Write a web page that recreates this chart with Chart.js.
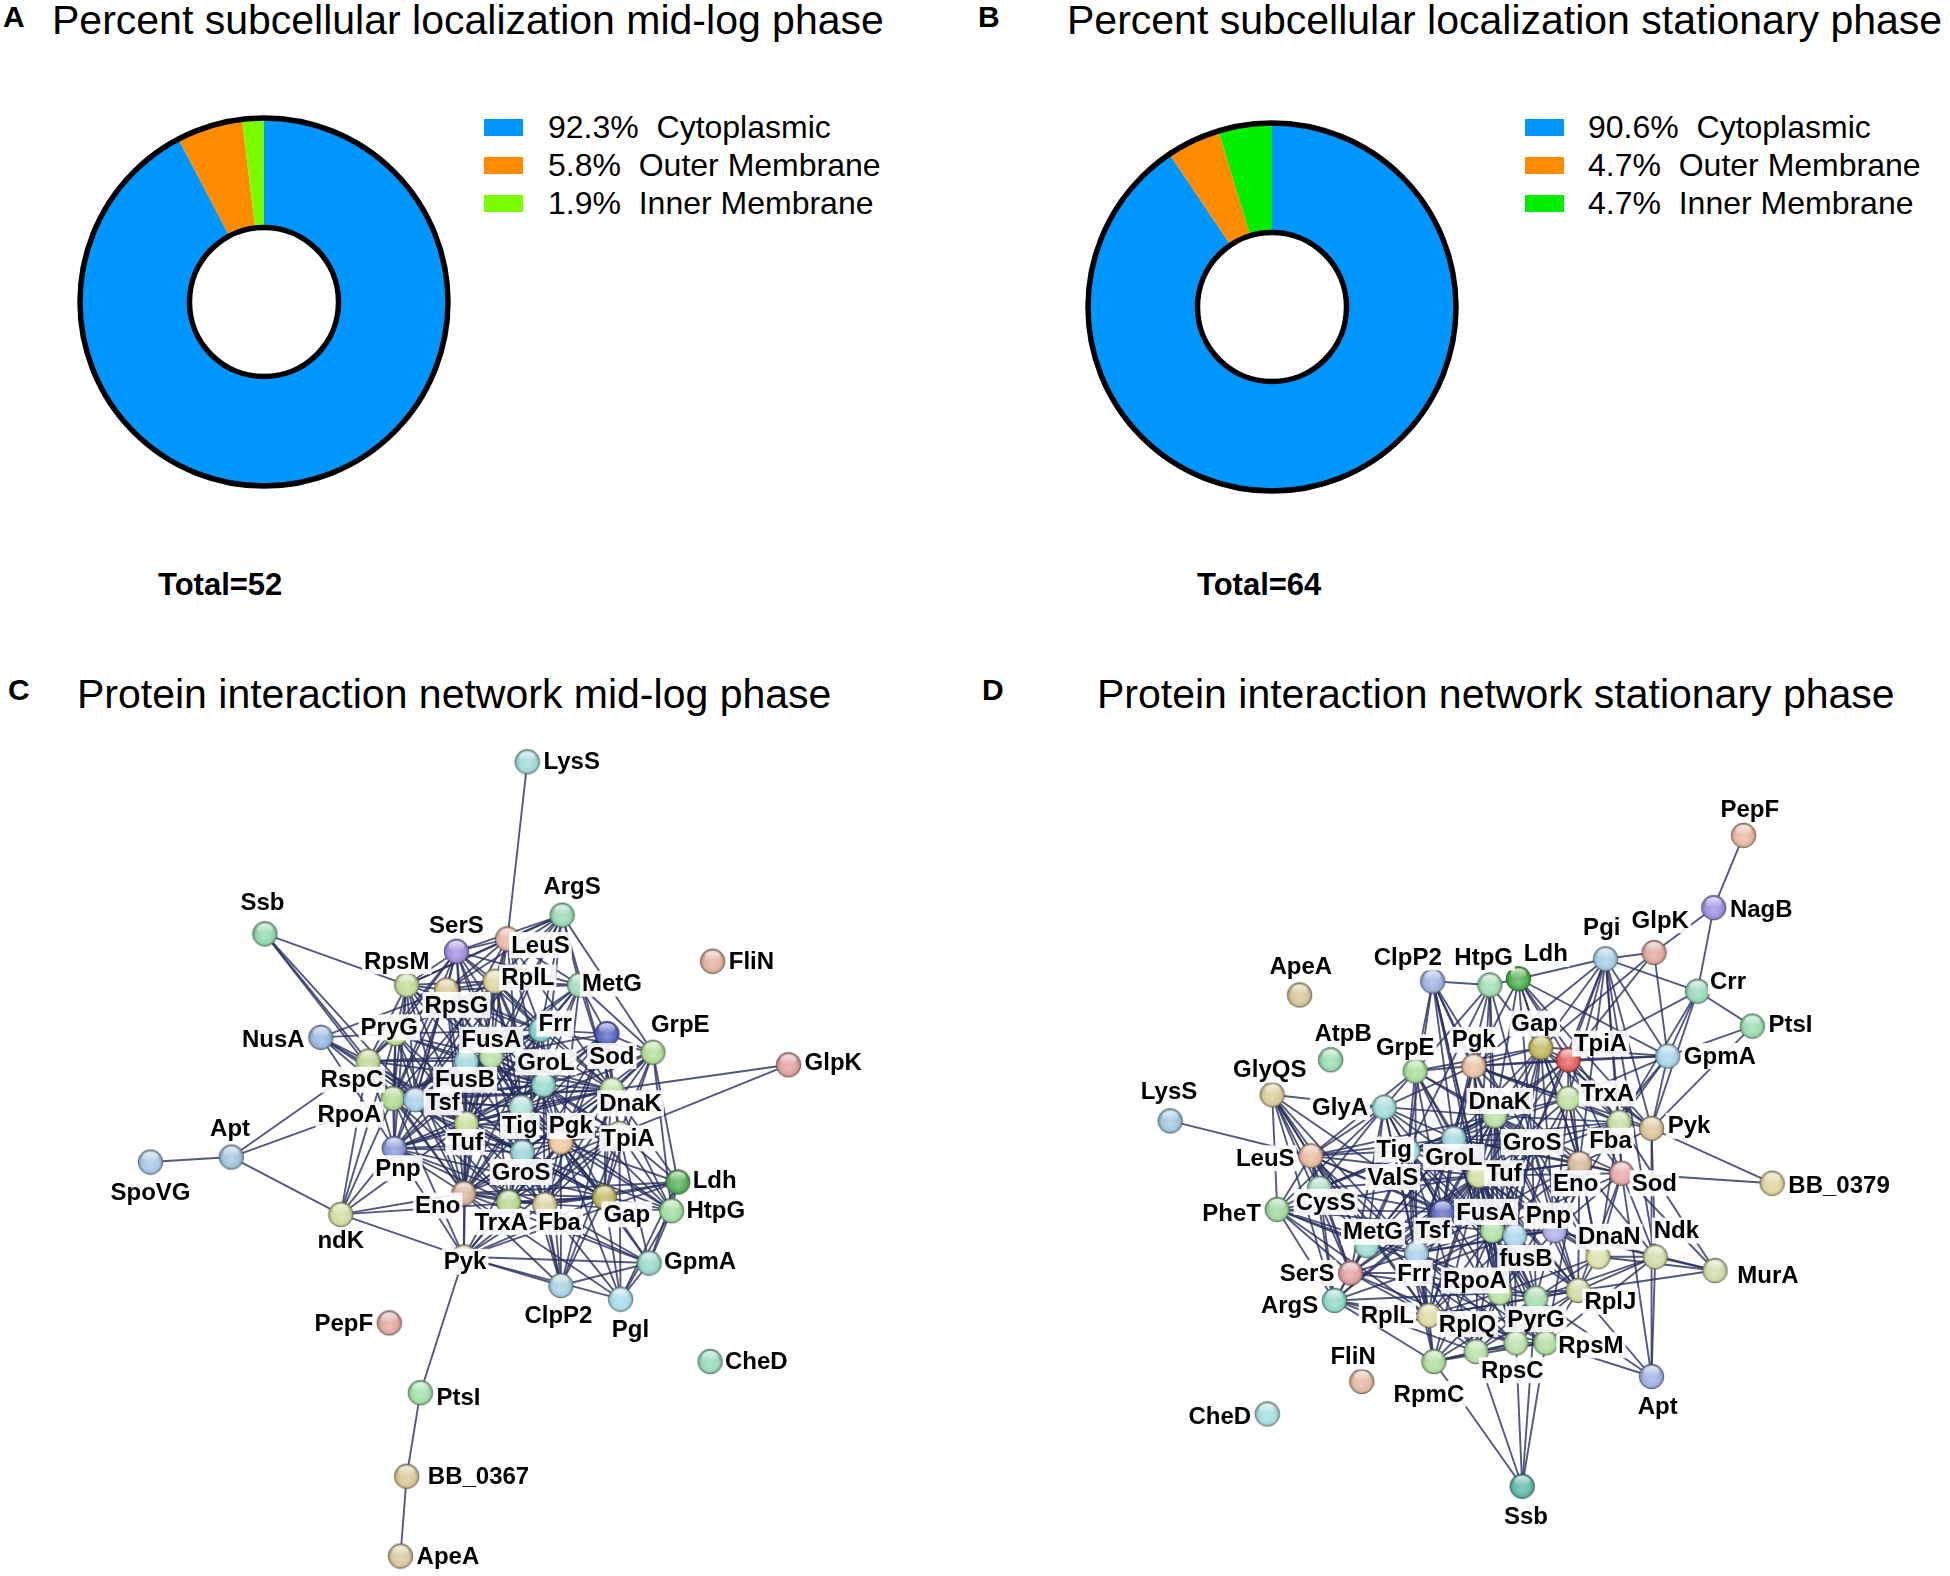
<!DOCTYPE html>
<html><head><meta charset="utf-8">
<script src="https://cdn.jsdelivr.net/npm/chart.js@4.4.1/dist/chart.umd.min.js"></script>
<style>
html,body{margin:0;padding:0;background:#fff;}
#page{position:relative;width:1950px;height:1576px;overflow:hidden;background:#fff;font-family:"Liberation Sans",Arial,sans-serif;color:#000;}
.t{position:absolute;white-space:pre;}
canvas{position:absolute;}
</style></head><body><div id="page"></div>
<script>
// ---------- DATA ----------
const categories = ['Cytoplasmic','Outer Membrane','Inner Membrane'];
const percentMidLog = [92.3, 5.8, 1.9];
const percentStationary = [90.6, 4.7, 4.7];
const totalMidLog = 52;
const totalStationary = 64;
const titles = ['Percent subcellular localization mid-log phase','Percent subcellular localization stationary phase',
  'Protein interaction network mid-log phase','Protein interaction network stationary phase'];

// network layout values (node name, layout x, layout y)
const nodesMidLog = [
 ['LysS',424,611],['ArgS',452,734],['Ssb',213,749],['SerS',367,763],['LeuS',408,753],['FliN',573,771],
 ['RpsM',327,790],['RplL',398,787],['MetG',466,790],['RpsG',359,794],['Frr',435,826],['GrpE',525,844],
 ['NusA',258,832],['Sod',488,829],['FusA',395,847],['GroL',437,870],['FusB',375,851],['PryG',318,829],
 ['RspC',296,851],['RpoA',316,881],['Tsf',334,882],['Tuf',375,901],['Tig',419,888],['Pgk',451,916],
 ['DnaK',492,874],['TpiA',498,909],['Pnp',317,921],['GroS',420,924],['Eno',373,957],['TrxA',409,964],
 ['Fba',438,966],['Gap',486,960],['Ldh',545,948],['HtpG',540,971],['ndK',274,974],['Apt',186,928],
 ['SpoVG',121,932],['Pyk',373,1008],['GpmA',522,1013],['ClpP2',451,1031],['Pgl',499,1042],['PepF',313,1061],
 ['CheD',571,1092],['PtsI',338,1117],['BB_0367',327,1184],['ApeA',322,1248],['GlpK',634,854]
];
const edgesMidLog = `
LysS-LeuS Ssb-RpsM Ssb-RspC Ssb-RpoA Ssb-Tsf NusA-RspC NusA-RpoA NusA-PryG NusA-Tsf NusA-RpsG NusA-Tuf NusA-Pnp
Apt-RspC Apt-RpoA Apt-ndK Apt-SpoVG ndK-Pyk ndK-Eno ndK-RpoA ndK-Pnp ndK-RspC ndK-Tuf ndK-PryG ndK-Gap
GlpK-DnaK GlpK-TpiA Pyk-PtsI PtsI-BB_0367 BB_0367-ApeA Pyk-GpmA Pyk-ClpP2 Pyk-Pgl Pyk-Eno Pyk-Gap Pyk-Fba Pyk-TpiA
Pyk-Pgk Pyk-TrxA Pyk-GroS Pyk-Pnp Pyk-Tuf Pyk-RpoA Pyk-Ldh ClpP2-GpmA ClpP2-Fba ClpP2-Gap ClpP2-DnaK ClpP2-GroL
ClpP2-GroS ClpP2-Tig ClpP2-TpiA ClpP2-Eno ClpP2-Pgk Pgl-GpmA Pgl-Gap Pgl-TpiA Pgl-Fba Pgl-Pgk Pgl-Ldh Pgl-HtpG Pgl-Eno
GpmA-Ldh GpmA-HtpG GpmA-Gap GpmA-TpiA GpmA-Fba GpmA-Pgk GpmA-Eno GpmA-TrxA Ldh-HtpG Ldh-Gap Ldh-TpiA Ldh-GrpE
Ldh-Pgk Ldh-Eno Ldh-Fba Ldh-DnaK HtpG-GrpE HtpG-DnaK HtpG-GroL HtpG-GroS HtpG-Gap HtpG-Tig GrpE-MetG GrpE-DnaK
GrpE-GroL GrpE-GroS GrpE-Sod GrpE-ArgS GrpE-Tig GrpE-Frr GrpE-TpiA GrpE-Pgk ArgS-MetG ArgS-LeuS ArgS-SerS ArgS-RpsM
ArgS-RplL ArgS-Frr ArgS-RpsG ArgS-FusA ArgS-Tuf ArgS-Tsf
SerS-LeuS SerS-RpsM SerS-RplL SerS-MetG SerS-RpsG SerS-FusA SerS-Tuf SerS-Tsf SerS-FusB SerS-Frr SerS-PryG SerS-RspC
LeuS-RplL LeuS-MetG LeuS-RpsM LeuS-RpsG LeuS-FusA LeuS-Tuf LeuS-Tsf LeuS-Frr LeuS-GroL MetG-RplL MetG-RpsG MetG-Frr
MetG-FusA MetG-Tuf MetG-Tsf MetG-GroL MetG-Sod MetG-DnaK RpsM-RpsG RpsM-RplL RpsM-PryG RpsM-RspC RpsM-RpoA RpsM-FusA
RpsM-FusB RpsM-Tuf RpsM-Tsf RpsM-Frr RpsM-Pnp RpsG-RplL RpsG-PryG RpsG-RspC RpsG-RpoA RpsG-FusA RpsG-FusB RpsG-Tuf
RpsG-Tsf RpsG-Frr RpsG-GroL RpsG-Tig RpsG-Pnp RplL-Frr RplL-FusA RplL-FusB RplL-Tuf RplL-Tsf RplL-GroL RplL-RpoA
RplL-Tig RplL-DnaK RplL-PryG PryG-RspC PryG-RpoA PryG-FusA PryG-FusB PryG-Tsf PryG-Tuf PryG-Pnp PryG-Eno RspC-RpoA
RspC-Tsf RspC-Tuf RspC-FusA RspC-FusB RspC-Pnp RspC-Eno RpoA-Tsf RpoA-Tuf RpoA-Pnp RpoA-FusA RpoA-FusB RpoA-Eno
RpoA-GroS Tsf-Tuf Tsf-FusA Tsf-FusB Tsf-Frr Tsf-Pnp Tsf-Tig Tsf-GroL Tsf-Eno Tuf-FusA Tuf-FusB Tuf-Frr Tuf-Tig
Tuf-GroL Tuf-GroS Tuf-Pnp Tuf-Eno Tuf-DnaK Tuf-Pgk Tuf-TrxA Tuf-Gap FusA-FusB FusA-Frr FusA-GroL FusA-Tig FusA-Pnp
FusA-DnaK FusA-Eno FusB-Frr FusB-Tig FusB-GroL FusB-Pnp Frr-GroL Frr-Sod Frr-DnaK Frr-Tig Pnp-Eno Pnp-GroS Pnp-TrxA
GroL-GroS GroL-DnaK GroL-Tig GroL-Sod GroL-Pgk GroL-TpiA GroL-Gap GroL-Eno GroL-Fba GroL-TrxA DnaK-GroS DnaK-Tig
DnaK-Sod DnaK-TpiA DnaK-Pgk DnaK-Gap DnaK-Eno DnaK-Fba DnaK-TrxA Sod-TpiA Sod-Pgk Sod-TrxA Sod-Gap Tig-GroS Tig-Pgk
Tig-Eno Pgk-TpiA Pgk-Gap Pgk-Eno Pgk-Fba Pgk-TrxA Pgk-GroS TpiA-Gap TpiA-Eno TpiA-Fba TpiA-TrxA GroS-Eno GroS-TrxA
GroS-Fba GroS-Gap Eno-TrxA Eno-Fba Eno-Gap TrxA-Fba TrxA-Gap Fba-Gap
GroL-RpsM GroL-PryG GroL-RspC GroL-RpoA GroL-Pnp GroS-Tsf GroS-FusA GroS-FusB GroS-RspC GroS-PryG DnaK-Tsf DnaK-FusB
DnaK-RpoA DnaK-Pnp DnaK-RpsG Tig-RpoA Tig-Pnp Tig-TrxA Tig-Fba Tig-Gap Tig-TpiA Pgk-FusA Pgk-Tsf Pgk-Pnp Eno-FusB
Eno-RpsM Eno-RpsG Gap-FusA Gap-RpoA Gap-Pnp TrxA-FusA TrxA-RpoA TrxA-Tsf Fba-Tuf Fba-Pnp Fba-Tsf TpiA-Tuf TpiA-FusA
Sod-Tuf Sod-FusA Sod-Tig Sod-Eno Sod-Fba MetG-Tig MetG-Pgk LeuS-Tig LeuS-DnaK SerS-GroL SerS-Tig SerS-RpoA ArgS-GroL
ArgS-DnaK RplL-Pgk RplL-Eno RplL-GroS Frr-Pgk Frr-GroS Frr-Eno Frr-Pnp Frr-RpoA Frr-PryG HtpG-TpiA HtpG-Pgk HtpG-Fba
GrpE-Gap GrpE-Fba`;

const nodesStationary = [
 ['PepF',1402,670],['NagB',1378,728],['GlpK',1330,764],['Pgi',1291,769],['Ldh',1221,785],['HtpG',1198,790],
 ['ClpP2',1152,787],['ApeA',1045,798],['Crr',1365,795],['PtsI',1409,823],['AtpB',1070,850],['GrpE',1138,859],
 ['Pgk',1185,855],['Gap',1239,840],['TpiA',1261,850],['GpmA',1341,847],['GlyQS',1023,878],['LysS',941,899],
 ['GlyA',1113,888],['DnaK',1202,895],['TrxA',1261,881],['Fba',1302,900],['Pyk',1328,905],['BB_0379',1425,949],
 ['LeuS',1054,927],['Tig',1132,923],['GroL',1169,913],['GroS',1232,916],['Tuf',1189,943],['ValS',1160,972],
 ['Eno',1270,933],['Sod',1304,941],['PheT',1027,970],['CysS',1061,953],['MetG',1099,999],['Tsf',1139,1005],
 ['FusA',1200,987],['fusB',1218,991],['Pnp',1250,987],['DnaN',1285,1008],['Ndk',1331,1008],['MurA',1379,1019],
 ['SerS',1086,1021],['Frr',1137,1021],['RpoA',1206,1037],['ArgS',1073,1043],['RplL',1149,1055],['RplQ',1187,1084],
 ['PyrG',1235,1041],['RplJ',1269,1035],['RpsM',1243,1077],['RpsC',1219,1077],['RpmC',1153,1092],['FliN',1095,1108],
 ['Apt',1328,1104],['CheD',1019,1134],['Ssb',1224,1192]
];
const edgesStationary = `
PepF-NagB NagB-Crr NagB-GlpK GlpK-Pgi Pgi-Ldh Pgi-Crr Pgi-GpmA Pgi-TpiA Pgi-Gap Pgi-Pyk Pgi-Eno Pgi-Fba Pgi-Pgk
Pgi-TrxA Pgi-Sod Pgi-Ndk Pgi-GroS GlpK-TpiA GlpK-Gap GlpK-GpmA Crr-PtsI Crr-GpmA Crr-Pyk Crr-TpiA Crr-Fba PtsI-Pyk
PtsI-GpmA GpmA-Pyk GpmA-TpiA GpmA-Gap GpmA-Pgk GpmA-Eno GpmA-Fba GpmA-Ldh GpmA-TrxA Pyk-BB_0379 Sod-BB_0379 Pyk-Ndk
Pyk-Eno Pyk-Fba Pyk-Gap Pyk-TpiA Pyk-Pgk Pyk-Ldh Pyk-Apt Ndk-MurA Ndk-Apt Ndk-RplJ Ndk-DnaN Ndk-Sod Ndk-PyrG Ndk-Pnp
Ndk-RpsM Ndk-Eno MurA-DnaN MurA-RplJ MurA-Fba MurA-Pnp MurA-Sod Apt-RpsM Apt-RplJ Apt-PyrG Apt-Sod Ssb-RpsC Ssb-RpmC
Ssb-RplQ Ssb-PyrG Ssb-RpsM LysS-LeuS GlyQS-GlyA GlyQS-LeuS GlyQS-PheT GlyQS-SerS GlyQS-ArgS GlyQS-CysS GlyQS-MetG
GlyQS-ValS GlyQS-Tsf GlyQS-RplL ClpP2-DnaK ClpP2-GrpE ClpP2-GroL ClpP2-GroS ClpP2-Tig ClpP2-HtpG ClpP2-Tuf ClpP2-FusA
ClpP2-Pgk HtpG-DnaK HtpG-GrpE HtpG-GroL HtpG-GroS HtpG-Ldh HtpG-Tuf HtpG-Tig HtpG-Gap Ldh-Gap Ldh-Pgk Ldh-TpiA
Ldh-Eno Ldh-Fba Ldh-DnaK Ldh-GroS
DnaK-GrpE DnaK-GroL DnaK-GroS DnaK-Tig DnaK-Tuf DnaK-FusA DnaK-Tsf DnaK-Pgk DnaK-Gap DnaK-TpiA DnaK-Eno DnaK-TrxA
DnaK-Fba DnaK-Sod DnaK-RpoA DnaK-Pnp DnaK-fusB DnaK-RplL GroL-GroS GroL-GrpE GroL-Tig GroL-Tuf GroL-FusA GroL-Tsf
GroL-Pgk GroL-Gap GroL-Eno GroL-Fba GroL-TpiA GroL-RpoA GroL-Pnp GroL-RplL GroL-Sod GroL-TrxA GroS-GrpE GroS-Tig
GroS-Tuf GroS-Eno GroS-Gap GroS-Fba GrpE-Tig GrpE-Tuf GrpE-GlyA GrpE-Pgk GrpE-LeuS Tig-Tuf Tig-FusA Tig-Tsf Tig-RplL
Tig-RpoA Tig-RpsC Tig-Frr Tig-MetG
Pgk-Gap Pgk-TpiA Pgk-Eno Pgk-Fba Pgk-TrxA Gap-TpiA Gap-Eno Gap-Fba Gap-TrxA TpiA-Eno TpiA-Fba TpiA-TrxA TpiA-Sod
Eno-Fba Eno-Sod Eno-TrxA Eno-Pnp Eno-DnaN Eno-Tuf Fba-Sod Fba-TrxA TrxA-Sod Sod-DnaN Sod-Pnp Sod-RplJ Gap-Tuf Pgk-Tuf
Eno-RpoA Eno-FusA Gap-FusA
LeuS-ValS LeuS-CysS LeuS-MetG LeuS-SerS LeuS-ArgS LeuS-PheT LeuS-GlyA LeuS-Tig LeuS-GroL LeuS-Tuf LeuS-Tsf LeuS-FusA
LeuS-Frr LeuS-RplL ValS-CysS ValS-MetG ValS-SerS ValS-ArgS ValS-PheT ValS-Tuf ValS-Tsf ValS-FusA CysS-MetG CysS-SerS
CysS-ArgS CysS-PheT CysS-GlyA MetG-SerS MetG-ArgS MetG-PheT MetG-Tsf MetG-Tuf SerS-ArgS SerS-PheT SerS-Tsf SerS-Tuf
SerS-RplL SerS-RpoA SerS-Frr SerS-GlyA ArgS-PheT ArgS-RplL ArgS-Tuf ArgS-RpmC ArgS-RplQ ArgS-RpsC PheT-GlyA PheT-Tuf
PheT-Tsf PheT-RplL GlyA-Tuf GlyA-Tig GlyA-GroL GlyA-DnaK GlyA-Pgk Tsf-Tuf Tsf-FusA Tsf-fusB Tsf-Frr Tsf-RpoA Tsf-RplL
Tsf-RplQ Tsf-RpsC Tsf-RpmC Tsf-PyrG Tsf-RpsM Tsf-Pnp Tuf-FusA Tuf-fusB Tuf-Frr Tuf-RpoA Tuf-RplL Tuf-RplQ Tuf-RpsC
Tuf-RpmC Tuf-PyrG Tuf-RpsM Tuf-RplJ Tuf-Pnp Tuf-DnaN FusA-fusB FusA-Frr FusA-RpoA FusA-RplL FusA-RplQ FusA-RpsC
FusA-RpmC FusA-PyrG FusA-RpsM FusA-RplJ FusA-Pnp fusB-Frr fusB-RpoA fusB-RplL fusB-RplQ fusB-RpsC fusB-RplJ fusB-Pnp
Frr-RpoA Frr-RplL Frr-RplQ Frr-RpsC Frr-RpmC Frr-RpsM RpoA-RplL RpoA-RplQ RpoA-RpsC RpoA-RpmC RpoA-PyrG RpoA-RpsM
RpoA-RplJ RpoA-Pnp RpoA-DnaN RplL-RplQ RplL-RpsC RplL-RpmC RplL-PyrG RplL-RpsM RplL-RplJ RplQ-RpsC RplQ-RpmC RplQ-PyrG
RplQ-RpsM RplQ-RplJ RpsC-RpmC RpsC-PyrG RpsC-RpsM RpsC-RplJ RpmC-PyrG RpmC-RpsM PyrG-RpsM PyrG-RplJ PyrG-Pnp RpsM-RplJ
RplJ-Pnp RplJ-DnaN Pnp-DnaN Pnp-fusB DnaN-PyrG ValS-GroL MetG-GroL CysS-Tuf ArgS-Frr PheT-RpoA ArgS-RpoA SerS-RpsC
PheT-FusA
GroS-FusA GroS-Tsf GroS-RpoA GroS-Pnp GroS-fusB GroS-RplJ GroS-DnaN GroS-PyrG GroL-fusB GroL-RplJ GroL-PyrG GroL-RpsC
GroL-DnaN GroL-CysS GroL-MetG Gap-RpoA Gap-Pnp Pgk-FusA Pgk-Tsf Eno-Tsf Eno-RplJ Eno-RpsM TrxA-FusA TrxA-Tuf Fba-Tuf
Fba-Pnp Fba-DnaN Sod-Tuf Sod-FusA TpiA-Tuf TpiA-FusA DnaK-RplJ DnaK-DnaN DnaK-PyrG DnaK-RpsC DnaK-MetG DnaK-CysS
DnaK-LeuS DnaK-ValS Tig-ValS Tig-CysS Tig-SerS Tig-PyrG Tig-RplQ GrpE-ValS GrpE-Tsf GrpE-FusA GrpE-Gap Pgk-RpoA
Pgk-ValS TrxA-RpoA TrxA-Pnp TrxA-DnaN GlyA-ValS GlyA-MetG GlyA-Tsf GlyA-FusA GlyA-RplL Tuf-Eno ClpP2-RpoA HtpG-FusA`;

// ---------- STYLES / LAYOUT ----------
const sliceColorsMidLog = ['#0096ff','#ff8c00','#7cfc00'];
const sliceColorsStationary = ['#0096ff','#ff8c00','#00ee00'];

const nodeColorMidLog = {LysS:'#9fd9d6',ArgS:'#9ad8b2',Ssb:'#92d6aa',SerS:'#a48fe0',LeuS:'#e6b8a6',FliN:'#e2b09c',
 RpsM:'#c2db98',RplL:'#ddd49e',MetG:'#a2dcb8',RpsG:'#d8c896',Frr:'#84d2ca',GrpE:'#b2dc98',NusA:'#9ab6de',Sod:'#5b68c2',
 FusA:'#b8e0a6',GroL:'#94d8cc',FusB:'#a2d8e2',PryG:'#c0dc98',RspC:'#bed896',RpoA:'#b0d890',Tsf:'#a8cfe8',Tuf:'#c8dc98',
 Tig:'#b0e0d8',Pgk:'#f0c8a0',DnaK:'#c0e0a8',TpiA:'#c8dca0',Pnp:'#8898d8',GroS:'#98d4d8',Eno:'#d8b098',TrxA:'#b8d890',
 Fba:'#dcd0a0',Gap:'#c0b860',Ldh:'#58b058',HtpG:'#a0dca0',ndK:'#d0dca0',Apt:'#a0c4dc',SpoVG:'#a8c8e4',Pyk:'#d8c8a0',
 GpmA:'#98d8c8',ClpP2:'#a8d0e0',Pgl:'#a8dce8',PepF:'#e0a8a0',CheD:'#98d8b8',PtsI:'#a0e0a8',BB_0367:'#d8c898',
 ApeA:'#d8c8a0',GlpK:'#e0a0a0'};
const nodeColorStationary = {PepF:'#e8b8a0',NagB:'#a090e0',GlpK:'#e0a8a0',Pgi:'#a8cce4',Ldh:'#50b050',HtpG:'#a0dcb0',
 ClpP2:'#a0b0e0',ApeA:'#d8c498',Crr:'#98d8b8',PtsI:'#98dcb0',AtpB:'#98dcb0',GrpE:'#a8dc98',Pgk:'#e8c0a0',Gap:'#c0b860',
 TpiA:'#e86060',GpmA:'#a8d4e8',GlyQS:'#d8cc98',LysS:'#a0c8dc',GlyA:'#a0dcd8',DnaK:'#b8e0a8',TrxA:'#c0e0a0',Fba:'#c8dca0',
 Pyk:'#dcc498',BB_0379:'#e0d4a0',LeuS:'#e8b8a0',Tig:'#a8e0e0',GroL:'#a0d8e0',GroS:'#a0d8d0',Tuf:'#d0e0a0',ValS:'#6070c0',
 Eno:'#d8b898',Sod:'#e8a8a8',PheT:'#a0d8a0',CysS:'#a8dcc0',MetG:'#a0dcd0',Tsf:'#a8d0e8',FusA:'#b0e0a8',fusB:'#a8d4e8',
 Pnp:'#b0b0e8',DnaN:'#dce0a8',Ndk:'#d0dca8',MurA:'#ccdca8',SerS:'#e0a0a0',Frr:'#a0d8d0',RpoA:'#b8e0a0',ArgS:'#90d8c8',
 RplL:'#e0d8a0',RplQ:'#b8e0a8',PyrG:'#a8dcb0',RplJ:'#d0d8a0',RpsM:'#b0dca0',RpsC:'#b8e0a8',RpmC:'#b0dca0',FliN:'#e0b8a0',
 Apt:'#a0b0e0',CheD:'#a8dcdc',Ssb:'#60b8a8'};

// label placement: [anchor, dx, dy] relative to node (layout units)
const labelMidLog = {LysS:['r',13,0],ArgS:['c',8,-23],Ssb:['c',-2,-25],SerS:['c',0,-21],LeuS:['r',3,5],FliN:['r',13,0],
 RpsM:['c',-8,-19],RplL:['r',5,-3],MetG:['r',2,-1],RpsG:['c',8,12],Frr:['r',-2,-5],GrpE:['c',22,-22],NusA:['l',-13,2],
 Sod:['c',4,18],FusA:['c',0,-13],GroL:['c',2,-18],FusB:['c',-1,15],PryG:['c',-5,-5],RspC:['c',-13,15],RpoA:['c',-35,13],
 Tsf:['c',22,2],Tuf:['c',-1,15],Tig:['c',-1,15],Pgk:['c',8,-13],DnaK:['c',15,11],TpiA:['c',7,4],Pnp:['c',3,16],
 GroS:['c',-1,16],Eno:['c',-21,10],TrxA:['c',-6,16],Fba:['c',12,14],Gap:['c',18,14],Ldh:['r',12,-1],HtpG:['r',12,0],
 ndK:['c',0,21],Apt:['c',-1,-23],SpoVG:['c',0,24],Pyk:['c',1,4],GpmA:['r',12,-1],ClpP2:['c',-2,24],Pgl:['c',8,24],
 PepF:['l',-13,0],CheD:['r',12,0],PtsI:['r',13,4],BB_0367:['r',17,0],ApeA:['r',13,0],GlpK:['r',13,-2]};
const labelStationary = {PepF:['c',5,-21],NagB:['r',13,1],GlpK:['c',5,-26],Pgi:['c',-3,-25],Ldh:['c',22,-20],
 HtpG:['c',-5,-22],ClpP2:['c',-20,-19],ApeA:['c',1,-23],Crr:['r',10,-8],PtsI:['r',13,-1],AtpB:['c',10,-21],
 GrpE:['c',-8,-19],Pgk:['c',0,-21],Gap:['c',-5,-19],TpiA:['c',26,-13],GpmA:['r',13,0],GlyQS:['c',-2,-20],
 LysS:['c',-1,-24],GlyA:['l',-13,0],DnaK:['c',4,-12],TrxA:['r',10,-4],Fba:['c',-7,15],Pyk:['r',13,-2],
 BB_0379:['r',13,2],LeuS:['l',-13,2],Tig:['c',-11,-1],GroL:['c',0,15],GroS:['c',0,0],Tuf:['r',6,-2],
 ValS:['c',-40,-28],Eno:['c',-3,16],Sod:['r',8,8],PheT:['l',-13,3],CysS:['c',5,11],MetG:['c',5,-11],
 Tsf:['c',13,-18],FusA:['c',-5,-15],fusB:['c',9,18],Pnp:['c',-5,-12],DnaN:['c',9,-16],Ndk:['c',17,-21],
 MurA:['r',18,4],SerS:['l',-13,0],Frr:['c',0,0],RpoA:['c',-20,-10],ArgS:['l',-13,4],RplL:['l',-12,0],
 RplQ:['c',-7,-22],PyrG:['c',0,17],RplJ:['r',5,9],RpsM:['r',10,2],RpsC:['c',-3,22],RpmC:['c',-4,26],
 FliN:['c',-7,-20],Apt:['c',5,24],CheD:['l',-13,2],Ssb:['c',3,24]};

const FONT = '"Liberation Sans", Arial, Helvetica, sans-serif';
const page = document.getElementById('page');

function addText(txt, left, cy, size, bold){
  const d = document.createElement('div');
  d.className = 't';
  d.textContent = txt;
  d.style.left = left + 'px';
  d.style.top = (cy - 0.59*size) + 'px';
  d.style.fontSize = size + 'px';
  d.style.lineHeight = (1.2*size) + 'px';
  d.style.fontWeight = bold ? 'bold' : 'normal';
  page.appendChild(d);
}
function addCanvas(left, top, w, h){
  const c = document.createElement('canvas');
  c.width = w; c.height = h;
  c.style.left = left + 'px'; c.style.top = top + 'px';
  c.style.width = w + 'px'; c.style.height = h + 'px';
  page.appendChild(c);
  return c;
}

// panel letters and titles
addText('A', 3, 17, 30, true);
addText(titles[0], 52, 20, 41, false);
addText('B', 978, 17, 30, true);
addText(titles[1], 1067, 20, 41, false);
addText('C', 8, 690, 30, true);
addText(titles[2], 77, 694, 41, false);
addText('D', 982, 690, 30, true);
addText(titles[3], 1097, 694, 41, false);

// ---------- DOUGHNUTS ----------
const ringPlugin = {
  id: 'ring',
  afterDatasetsDraw(chart){
    const arc = chart.getDatasetMeta(0).data[0];
    if(!arc) return;
    const p = arc.getProps(['x','y','innerRadius','outerRadius'], true);
    const ctx = chart.ctx;
    ctx.save();
    ctx.strokeStyle = '#000';
    ctx.lineWidth = 5.5;
    ctx.beginPath(); ctx.arc(p.x, p.y, p.outerRadius, 0, Math.PI*2); ctx.stroke();
    ctx.beginPath(); ctx.arc(p.x, p.y, p.innerRadius, 0, Math.PI*2); ctx.stroke();
    ctx.restore();
  }
};
function doughnut(cx, cy, values, colors){
  const size = 380;
  const c = addCanvas(cx - size/2, cy - size/2, size, size);
  new Chart(c, {
    type: 'doughnut',
    data: { labels: categories, datasets: [{ data: values, backgroundColor: colors, borderWidth: 0 }] },
    options: {
      responsive: false, animation: false, cutout: '40.5%',
      layout: { padding: 6, autoPadding: false },
      plugins: { legend: { display: false }, tooltip: { enabled: false } }
    },
    plugins: [ringPlugin]
  });
}
doughnut(264, 302, percentMidLog, sliceColorsMidLog);
doughnut(1272, 307, percentStationary, sliceColorsStationary);

function legend(boxX, textX, values, colors){
  const rows = [127, 165, 203];
  categories.forEach((cat, i) => {
    const b = document.createElement('div');
    b.style.position = 'absolute';
    b.style.left = boxX + 'px'; b.style.top = (rows[i] - 8.5) + 'px';
    b.style.width = '39px'; b.style.height = '17px';
    b.style.background = colors[i];
    page.appendChild(b);
    addText(values[i].toFixed(1) + '%  ' + cat, textX, rows[i], 32, false);
  });
}
legend(484, 548, percentMidLog, sliceColorsMidLog);
legend(1525, 1588, percentStationary, sliceColorsStationary);

addText('Total=' + totalMidLog, 158, 584, 31, true);
addText('Total=' + totalStationary, 1197, 584, 31, true);

// ---------- NETWORKS ----------
function hexToRgb(h){ const n = parseInt(h.slice(1), 16); return [(n>>16)&255, (n>>8)&255, n&255]; }
function mix(rgb, t, f){ return 'rgb(' + rgb.map(v => Math.round(v + (t - v)*f)).join(',') + ')'; }
const sphereCache = {};
function sphere(col){
  if(sphereCache[col]) return sphereCache[col];
  const s = 27, c = document.createElement('canvas');
  c.width = s; c.height = s;
  const g = c.getContext('2d'), r = 12.4, m = s/2;
  const rgb = hexToRgb(col);
  const grd = g.createRadialGradient(m, m + 3, 1, m, m, r);
  grd.addColorStop(0, mix(rgb, 255, 0.25));
  grd.addColorStop(0.7, col);
  grd.addColorStop(1, mix(rgb, 0, 0.3));
  g.beginPath(); g.arc(m, m, r, 0, Math.PI*2); g.fillStyle = grd; g.fill();
  g.lineWidth = 0.9; g.strokeStyle = 'rgba(0,0,0,0.35)'; g.stroke();
  const hg = g.createLinearGradient(0, m - r + 1, 0, m);
  hg.addColorStop(0, 'rgba(255,255,255,0.85)');
  hg.addColorStop(1, 'rgba(255,255,255,0)');
  g.beginPath(); g.ellipse(m, m - 5, 8, 5.5, 0, 0, Math.PI*2); g.fillStyle = hg; g.fill();
  sphereCache[col] = c;
  return c;
}

function network(left, top, w, h, xmin, xmax, ymin, ymax, nodes, edgeText, colors, labels){
  const c = addCanvas(left, top, w, h);
  const idx = {};
  nodes.forEach((n, i) => idx[n[0]] = i);
  const datasets = [{
    label: 'proteins',
    data: nodes.map(n => ({ x: n[1], y: n[2] })),
    pointStyle: nodes.map(n => sphere(colors[n[0]] || '#cccccc')),
    pointRadius: 12.5, pointHoverRadius: 12.5,
    showLine: false, order: 0
  }];
  edgeText.trim().split(/\s+/).forEach(e => {
    const [a, b] = e.split('-');
    if(!(a in idx) || !(b in idx)) return;
    const A = nodes[idx[a]], B = nodes[idx[b]];
    datasets.push({
      label: e, data: [{ x: A[1], y: A[2] }, { x: B[1], y: B[2] }],
      showLine: true, borderColor: 'rgba(40,48,95,0.8)', borderWidth: 1.9,
      pointRadius: 0, pointHoverRadius: 0, order: 1
    });
  });
  const labelPlugin = {
    id: 'nodeLabels',
    afterDatasetsDraw(chart){
      const ctx = chart.ctx, xs = chart.scales.x, ys = chart.scales.y;
      ctx.save();
      ctx.font = 'bold 24px ' + FONT;
      ctx.textBaseline = 'middle';
      ctx.textAlign = 'left';
      nodes.forEach(n => {
        const L = labels[n[0]] || ['r', 13, 0];
        const px = xs.getPixelForValue(n[1] + L[1]);
        const py = ys.getPixelForValue(n[2] + L[2]);
        const tw = ctx.measureText(n[0]).width;
        const lx = L[0] === 'r' ? px : (L[0] === 'l' ? px - tw : px - tw/2);
        ctx.fillStyle = 'rgba(255,255,255,0.9)';
        ctx.fillRect(lx - 2, py - 13, tw + 4, 26);
        ctx.fillStyle = '#000';
        ctx.fillText(n[0], lx, py + 1);
      });
      ctx.restore();
    }
  };
  new Chart(c, {
    type: 'scatter',
    data: { datasets },
    options: {
      responsive: false, animation: false,
      layout: { padding: 0, autoPadding: false },
      scales: {
        x: { type: 'linear', min: xmin, max: xmax, display: false },
        y: { type: 'linear', min: ymin, max: ymax, reverse: true, display: false }
      },
      plugins: { legend: { display: false }, tooltip: { enabled: false } },
      events: []
    },
    plugins: [labelPlugin]
  });
}
network(0, 720, 975, 856, 0, 784, 577.5, 1264, nodesMidLog, edgesMidLog, nodeColorMidLog, labelMidLog);
network(975, 720, 975, 856, 784, 1568, 577.5, 1264, nodesStationary, edgesStationary, nodeColorStationary, labelStationary);
</script></body></html>
